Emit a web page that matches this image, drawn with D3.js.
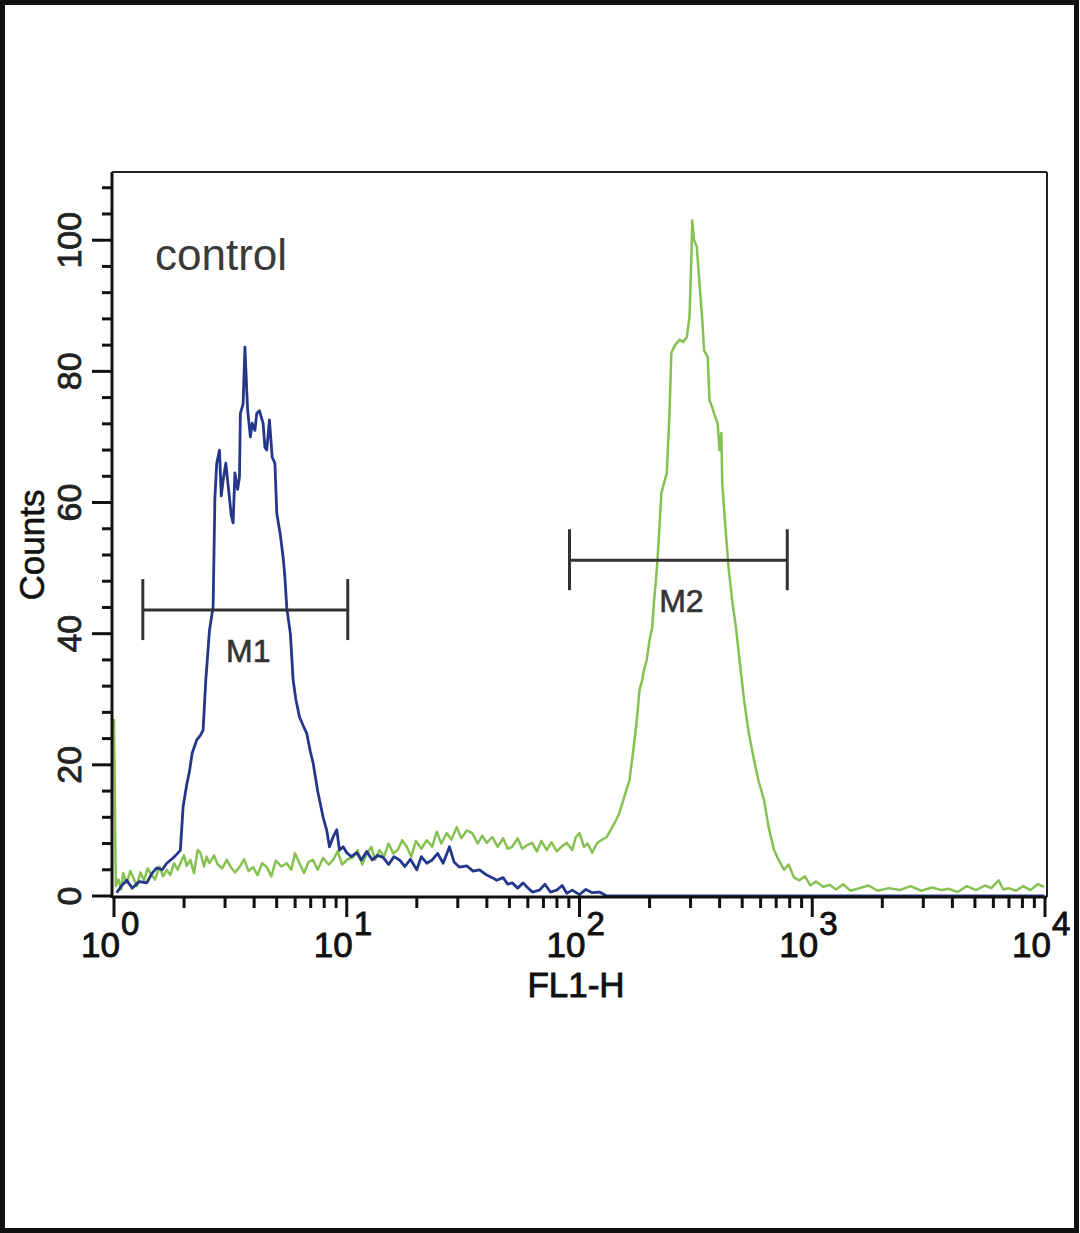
<!DOCTYPE html>
<html>
<head>
<meta charset="utf-8">
<script src="https://cdn.jsdelivr.net/npm/d3@7"></script>
<style>
  html, body { margin: 0; padding: 0; background: #fff; }
  svg { display: block; font-family: "Liberation Sans", Arial, sans-serif; }
</style>
</head>
<body>
<svg id="chart"></svg>
<script>
// histogram data: [channel (0..1023, 256 per decade), counts]
const blueHist = [[3,0.5],[8,1.5],[14,2.4],[20,1.2],[28,2.2],[36,2.0],[42,3.5],[47,4.3],[53,4.0],[58,5.0],[65,5.8],[70,6.5],[73,7.0],[76,13.6],[80,17],[83,19],[86,21.8],[91,23.8],[95,24.5],[98,25.3],[101,33],[105,40.5],[109,44.1],[111,60.8],[113,66],[116,68.0],[118,61],[120,63.4],[123,66],[126,62],[129,58],[131,56.9],[133,64.5],[136,62],[138,63.9],[139,73.6],[142,75],[144,83.7],[146,77.1],[147,74.1],[150,70],[152,72.1],[155,71],[157,73.6],[160,74],[162,73],[164,72.1],[166,68.4],[168,68],[171,72.6],[174,66.9],[177,66.0],[179,58.4],[183,55],[186,51.7],[188,48.6],[190,44],[194,40],[197,33],[200,30],[204,27.3],[208,26],[212,24.8],[216,22],[219,20.3],[224,16],[230,12.0],[234,10],[237,7.5],[241,9],[245,10.1],[248,7.0],[252,7.5],[256,6.6],[261,6.0],[267,6.6],[272,5.5],[278,6.8],[284,5.5],[290,6.2],[296,5.9],[302,4.8],[308,6.0],[314,5.5],[320,4.5],[326,5.6],[333,4.0],[338,6.0],[344,5.0],[350,5.5],[356,6.5],[362,5.0],[369,7.5],[374,5.2],[380,4.4],[388,4.6],[395,3.8],[402,4.0],[410,3.2],[416,2.8],[421,2.4],[428,2.8],[433,1.8],[438,2.0],[444,1.2],[450,2.0],[454,1.4],[460,0.6],[468,0.9],[474,1.8],[480,0.6],[487,0.9],[493,1.6],[498,0.4],[504,0.9],[512,0.2],[519,1.0],[526,0.5],[534,0.6],[542,0],[1023,0]];

const greenHist = [[0,27],[2,1.5],[5,2.5],[8,1.0],[10,3.5],[14,2.0],[18,3.8],[21,2.9],[25,1.5],[29,3.6],[33,2.4],[37,4.2],[40,3.5],[45,2.5],[50,4.5],[54,3.0],[58,4.0],[62,3.2],[66,5.0],[70,4.0],[73,5.0],[77,6.2],[80,4.6],[84,5.5],[88,3.5],[92,7.0],[95,6.6],[99,4.5],[102,6.0],[105,5.0],[110,6.2],[114,4.8],[119,4.2],[124,5.5],[128,4.5],[133,3.6],[138,4.4],[143,5.6],[148,3.8],[153,4.4],[158,3.2],[163,5.0],[168,4.4],[173,3.0],[178,5.4],[184,4.5],[190,5.0],[195,4.0],[199,6.5],[204,5.0],[209,3.5],[214,5.2],[219,5.5],[224,4.0],[230,5.8],[236,4.8],[241,5.5],[246,6.8],[251,4.8],[257,5.6],[263,5.9],[268,7.0],[273,4.8],[278,6.4],[283,7.5],[287,5.5],[292,7.0],[297,6.0],[302,8.0],[307,6.5],[312,7.0],[317,8.5],[322,7.5],[327,6.0],[332,8.4],[338,7.2],[344,8.5],[350,7.5],[355,9.8],[360,8.0],[366,9.6],[371,8.6],[377,10.5],[382,8.8],[388,10.0],[394,9.6],[400,8.0],[405,9.2],[410,8.1],[416,9.0],[422,7.5],[428,8.8],[433,7.2],[438,7.5],[444,8.8],[449,7.2],[455,7.8],[460,8.1],[465,6.8],[470,8.4],[476,7.0],[481,8.2],[487,6.8],[492,7.5],[498,8.1],[504,7.0],[508,9.0],[512,9.6],[517,7.5],[521,8.0],[526,6.6],[531,8.0],[537,8.6],[542,9.0],[548,10.5],[552,11.5],[556,12.7],[561,15],[567,17.7],[571,22],[575,26.8],[578,31.4],[581,33],[583,34.5],[586,36],[589,39],[592,41],[594,45],[596,48],[598,51.7],[600,56.3],[602,61.4],[605,63],[608,64.5],[611,73.6],[613,82.8],[617,84],[622,84.8],[626,84.5],[630,85.2],[633,88.3],[635,97],[636,103],[638,100],[641,99],[644,93.4],[647,88],[649,83.2],[653,82.2],[655,75.6],[658,74.5],[660,73.6],[664,72],[666,68],[668,70.6],[669,63],[671,59],[673,55.3],[676,50],[680,45],[684,41],[688,36],[693,29.9],[698,25],[704,20.7],[709,17.5],[715,14.6],[720,10.5],[726,7.0],[731,5.5],[737,4.0],[742,4.8],[748,2.8],[754,2.4],[760,3.0],[766,1.6],[772,2.2],[780,1.4],[787,1.7],[794,1.0],[802,1.8],[810,0.8],[820,1.2],[830,1.6],[840,0.8],[852,1.2],[864,0.9],[876,1.5],[888,0.8],[900,1.3],[910,0.9],[918,1.1],[928,0.6],[938,1.5],[948,0.9],[958,1.6],[965,1.2],[973,2.4],[978,1.0],[984,1.2],[992,0.8],[1000,1.5],[1008,0.9],[1016,1.8],[1023,1.4]];

const yMajorTicks = [0, 20, 40, 60, 80, 100];
const yMinorTicks = d3.range(0, 110, 4);
const xDecades = [0, 1, 2, 3, 4];
const xMinorMult = [2, 3, 4, 5, 6, 7, 8, 9];

// markers: name, gate range on FL1-H, counts level
const markers = [
  { name: "M1", from: 1.33, to: 10.1, level: 43.6 },
  { name: "M2", from: 90.6, to: 781, level: 51.2 }
];

const width = 1080;
const height = 1233;
const plot = { left: 112, right: 1047, top: 172, bottom: 897 };

const svg = d3.select('#chart')
  .attr('width', width)
  .attr('height', height);

// outer frame
svg.append('rect')
  .attr('x', 2.5).attr('y', 2.5)
  .attr('width', width - 6).attr('height', height - 5)
  .attr('fill', 'none')
  .attr('stroke', '#111')
  .attr('stroke-width', 5);

const x = d3.scaleLog().domain([1, 10000]).range([114, 1045]);
const y = d3.scaleLinear().domain([0, 110.4]).range([896, 172]);
const chToFl = ch => Math.pow(10, ch / 256);

// frame: top/right thin, left/bottom heavy
svg.append('line').attr('x1', plot.left).attr('x2', plot.right).attr('y1', plot.top).attr('y2', plot.top)
  .attr('stroke', '#222').attr('stroke-width', 2);
svg.append('line').attr('x1', plot.right).attr('x2', plot.right).attr('y1', plot.top).attr('y2', plot.bottom)
  .attr('stroke', '#222').attr('stroke-width', 2);

// y ticks
svg.selectAll('.ytick').data(yMinorTicks).join('line')
  .attr('class', 'ytick')
  .attr('x1', d => d % 20 === 0 ? 92 : 102).attr('x2', plot.left)
  .attr('y1', d => y(d)).attr('y2', d => y(d))
  .attr('stroke', '#111').attr('stroke-width', 3);

svg.selectAll('.ylabel').data(yMajorTicks).join('text')
  .attr('class', 'ylabel')
  .attr('transform', d => `translate(81,${y(d)}) rotate(-90)`)
  .attr('text-anchor', 'middle')
  .attr('font-size', 34)
  .attr('fill', '#222')
  .attr('stroke', '#222').attr('stroke-width', 0.8)
  .text(d => d);

// x ticks
const minorX = [];
xDecades.slice(0, -1).forEach(e => xMinorMult.forEach(m => minorX.push(m * Math.pow(10, e))));
svg.selectAll('.xminor').data(minorX).join('line')
  .attr('class', 'xminor')
  .attr('x1', d => x(d)).attr('x2', d => x(d))
  .attr('y1', plot.bottom).attr('y2', plot.bottom + 11)
  .attr('stroke', '#111').attr('stroke-width', 3);
svg.selectAll('.xmajor').data(xDecades).join('line')
  .attr('class', 'xmajor')
  .attr('x1', d => x(Math.pow(10, d))).attr('x2', d => x(Math.pow(10, d)))
  .attr('y1', plot.bottom).attr('y2', plot.bottom + 20)
  .attr('stroke', '#111').attr('stroke-width', 3);

const xl = svg.selectAll('.xlabel').data(xDecades).join('g')
  .attr('class', 'xlabel')
  .attr('transform', d => `translate(${x(Math.pow(10, d))},0)`);
xl.append('text')
  .attr('x', 6).attr('y', 957)
  .attr('text-anchor', 'end')
  .attr('font-size', 35)
  .attr('fill', '#111')
  .attr('stroke', '#111').attr('stroke-width', 0.9)
  .text('10');
xl.append('text')
  .attr('x', 7).attr('y', 935)
  .attr('font-size', 33)
  .attr('fill', '#111')
  .attr('stroke', '#111').attr('stroke-width', 0.9)
  .text(d => d);

// axis titles
svg.append('text')
  .attr('x', 576).attr('y', 997)
  .attr('text-anchor', 'middle')
  .attr('font-size', 35)
  .attr('fill', '#111')
  .attr('stroke', '#111').attr('stroke-width', 0.9)
  .text('FL1-H');
svg.append('text')
  .attr('transform', 'translate(44,545) rotate(-90)')
  .attr('text-anchor', 'middle')
  .attr('font-size', 35)
  .attr('fill', '#111')
  .attr('stroke', '#111').attr('stroke-width', 0.6)
  .text('Counts');

svg.append('text')
  .attr('x', 155).attr('y', 270)
  .attr('font-size', 44)
  .attr('fill', '#3a3a3a')
  .text('control');

// histograms
const line = d3.line()
  .x(d => x(chToFl(d[0])))
  .y(d => y(d[1]));

svg.append('path')
  .datum(greenHist)
  .attr('d', line)
  .attr('fill', 'none')
  .attr('stroke', '#86c152')
  .attr('stroke-width', 2.5)
  .attr('stroke-linejoin', 'round');

svg.append('path')
  .datum(blueHist)
  .attr('d', line)
  .attr('fill', 'none')
  .attr('stroke', '#24378a')
  .attr('stroke-width', 2.8)
  .attr('stroke-linejoin', 'round');

// markers
const mk = svg.selectAll('.marker').data(markers).join('g').attr('class', 'marker');
mk.append('line')
  .attr('x1', d => x(d.from)).attr('x2', d => x(d.to))
  .attr('y1', d => y(d.level)).attr('y2', d => y(d.level))
  .attr('stroke', '#333').attr('stroke-width', 3);
mk.append('line')
  .attr('x1', d => x(d.from)).attr('x2', d => x(d.from))
  .attr('y1', d => y(d.level) - 31).attr('y2', d => y(d.level) + 30)
  .attr('stroke', '#333').attr('stroke-width', 3);
mk.append('line')
  .attr('x1', d => x(d.to)).attr('x2', d => x(d.to))
  .attr('y1', d => y(d.level) - 31).attr('y2', d => y(d.level) + 30)
  .attr('stroke', '#333').attr('stroke-width', 3);
mk.append('text')
  .attr('x', d => (x(d.from) + x(d.to)) / 2 + 3)
  .attr('y', d => y(d.level) + 52)
  .attr('text-anchor', 'middle')
  .attr('font-size', 32)
  .attr('fill', '#333')
  .attr('stroke', '#333').attr('stroke-width', 0.6)
  .text(d => d.name);

// axis lines drawn last so they sit over the curves
svg.append('line').attr('x1', plot.left).attr('x2', plot.left).attr('y1', plot.top).attr('y2', plot.bottom + 1)
  .attr('stroke', '#111').attr('stroke-width', 3);
svg.append('line').attr('x1', plot.left).attr('x2', plot.right).attr('y1', plot.bottom).attr('y2', plot.bottom)
  .attr('stroke', '#111').attr('stroke-width', 3);
</script>
</body>
</html>
